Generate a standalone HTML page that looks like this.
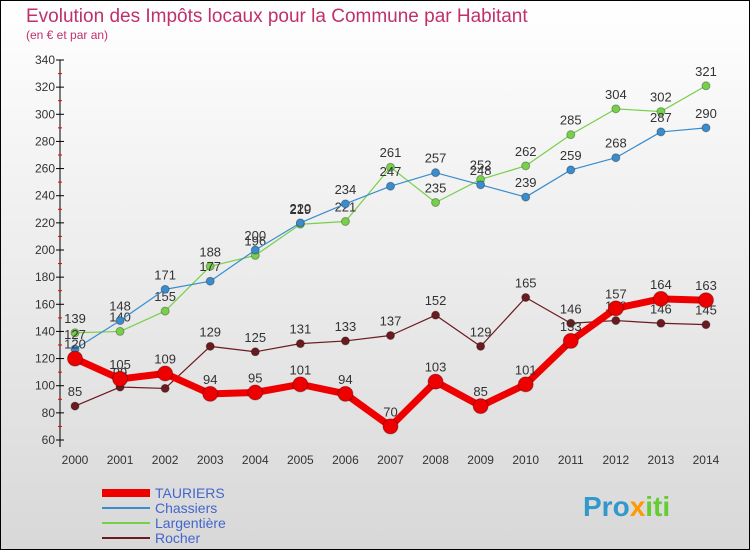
<!DOCTYPE html>
<html><head><meta charset="utf-8"><style>
body{margin:0;width:750px;height:550px;overflow:hidden;font-family:"Liberation Sans",sans-serif}
</style></head><body>
<svg id="c" width="750" height="550" xmlns="http://www.w3.org/2000/svg" style="display:block">
<defs><linearGradient id="bg" x1="0" y1="0" x2="0" y2="1"><stop offset="0" stop-color="#ffffff"/><stop offset="1" stop-color="#d8d8d8"/></linearGradient></defs>
<rect x="0.5" y="0.5" width="749" height="549" fill="url(#bg)" stroke="#000"/>
<text x="26" y="22" font-size="19" fill="#c0306a">Evolution des Impôts locaux pour la Commune par Habitant</text>
<text x="26" y="39" font-size="12" fill="#c0306a">(en € et par an)</text>
<g id="axes"></g><g id="series"></g><g id="legend"></g>
<text x="583" y="516" font-size="28" font-weight="bold" fill="#3399cc">Pro<tspan fill="#ff9900">x</tspan><tspan fill="#66cc33">iti</tspan></text>
</svg>
<script>
const years=[2000,2001,2002,2003,2004,2005,2006,2007,2008,2009,2010,2011,2012,2013,2014];
const tauriers=[120,105,109,94,95,101,94,70,103,85,101,133,157,164,163];
const chassiers=[127,148,171,177,200,220,234,247,257,248,239,259,268,287,290];
const largentiere=[139,140,155,188,196,219,221,261,235,252,262,285,304,302,321];
const rocher=[85,99,98,129,125,131,133,137,152,129,165,146,148,146,145];
const yTicks=[60,80,100,120,140,160,180,200,220,240,260,280,300,320,340];
const NS="http://www.w3.org/2000/svg";
const X=i=>75+i*45.07, Y=v=>440-(v-60)*380/280;
function el(t,a,p){const e=document.createElementNS(NS,t);for(const k in a)e.setAttribute(k,a[k]);p.appendChild(e);return e;}
const ax=document.getElementById('axes');
const yl=el('line',{x1:60,y1:60,x2:60,y2:447,stroke:'#000'},ax);


yTicks.forEach(v=>{
  el('line',{x1:56,y1:Y(v),x2:64,y2:Y(v),stroke:'#000'},ax);
  if(v<340) el('line',{x1:58,y1:Y(v+10),x2:62,y2:Y(v+10),stroke:'#e00'},ax);
  const t=el('text',{x:55,y:Y(v)+4,'font-size':12,'text-anchor':'end',fill:'#333'},ax);t.textContent=v;
  
  
});
years.forEach((y,i)=>{
  const t=el('text',{x:X(i),y:464,'font-size':12,'text-anchor':'middle',fill:'#333'},ax);t.textContent=y;
  
  
});
const sg=document.getElementById('series');
function series(name,data,color,w,r){
  const g=el('g',{},sg);
  
  
  el('polyline',{points:data.map((v,i)=>X(i)+','+Y(v)).join(' '),fill:'none',stroke:color,'stroke-width':w,'stroke-linejoin':'round'},g);
  data.forEach((v,i)=>{
    const c=el('circle',{cx:X(i),cy:Y(v),r:r,fill:color,stroke:'rgba(0,0,0,0.3)'},g);
    
    
    const t=el('text',{x:X(i),y:Y(v)-10,'font-size':13,'text-anchor':'middle',fill:'#333'},g);t.textContent=v;
    
    
  });
}
series('rocher',rocher,'#6b1a1f',1.2,4);
series('largentiere',largentiere,'#77d04a',1.2,4);
series('chassiers',chassiers,'#3a8ccc',1.2,4);
series('tauriers',tauriers,'#ee0000',7,7.5);
const lg=document.getElementById('legend');
[['TAURIERS','#ee0000',8],['Chassiers','#3a8ccc',2],['Largentière','#77d04a',2],['Rocher','#6b1a1f',2]].forEach((d,i)=>{
  const g=el('g',{},lg);
  
  
  const y=493+i*15;
  el('line',{x1:102,y1:y,x2:150,y2:y,stroke:d[1],'stroke-width':d[2]},g);
  const t=el('text',{x:155,y:y+5,'font-size':14,fill:'#4466cc'},g);t.textContent=d[0];
});
</script>
</body></html>
